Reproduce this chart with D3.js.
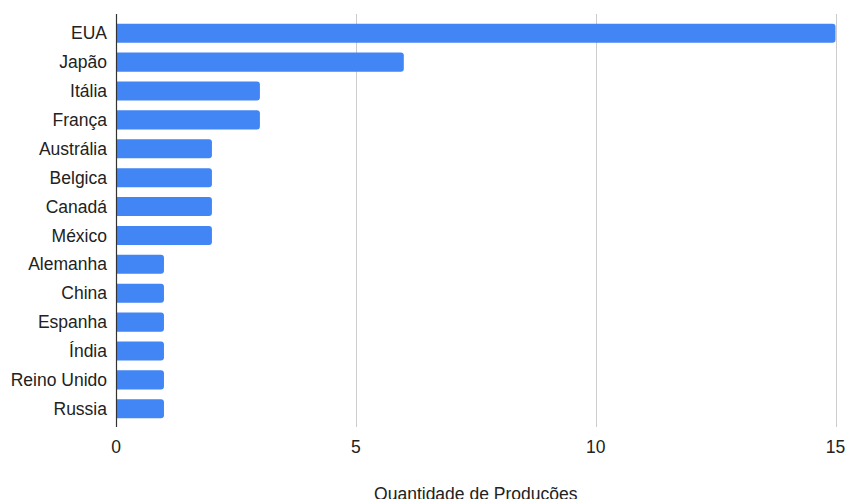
<!DOCTYPE html>
<html>
<head>
<meta charset="utf-8">
<script src="https://cdn.jsdelivr.net/npm/d3@7"></script>
<style>
  html, body { margin: 0; padding: 0; background: #fff; }
  text { font-family: "Liberation Sans", Arial, sans-serif; fill: #222; }
</style>
</head>
<body>
<svg id="chart" width="847" height="499"></svg>
<script>
const countries = ["EUA", "Japão", "Itália", "França", "Austrália", "Belgica", "Canadá", "México",
                   "Alemanha", "China", "Espanha", "Índia", "Reino Unido", "Russia"];
const productions = [15, 6, 3, 3, 2, 2, 2, 2, 1, 1, 1, 1, 1, 1];
const xTicks = [0, 5, 10, 15];
const xTitle = "Quantidade de Produções";

const svg = d3.select("#chart");
const plotLeft = 116, plotRight = 835.5, plotTop = 15, plotBottom = 427;
const fontSize = 17.5;

const x = d3.scaleLinear().domain([0, 15]).range([plotLeft, plotRight]);
const y = d3.scaleBand().domain(countries).range([plotTop, plotBottom]).paddingInner(0.34).paddingOuter(0.3);

// vertical gridlines
svg.append("g").selectAll("line")
  .data(xTicks.filter(d => d > 0))
  .join("line")
  .attr("x1", d => Math.round(x(d)) + 0.5).attr("x2", d => Math.round(x(d)) + 0.5)
  .attr("y1", plotTop - 1).attr("y2", plotBottom)
  .attr("stroke", "#cccccc").attr("stroke-width", 1);

// bars with rounded right ends
const r = 3;
svg.append("g").selectAll("path")
  .data(countries.map((c, i) => ({ c, v: productions[i] })))
  .join("path")
  .attr("fill", "#4285f4")
  .attr("d", d => {
    const x0 = x(0), x1 = x(d.v), y0 = y(d.c), h = y.bandwidth();
    return `M${x0},${y0}H${x1 - r}Q${x1},${y0} ${x1},${y0 + r}V${y0 + h - r}Q${x1},${y0 + h} ${x1 - r},${y0 + h}H${x0}Z`;
  });

// baseline axis
svg.append("line")
  .attr("x1", plotLeft + 0.5).attr("x2", plotLeft + 0.5)
  .attr("y1", plotTop - 1).attr("y2", plotBottom)
  .attr("stroke", "#333").attr("stroke-width", 1.2);

// category labels
svg.append("g").selectAll("text")
  .data(countries)
  .join("text")
  .attr("x", plotLeft - 9)
  .attr("y", d => y(d) + y.bandwidth() / 2)
  .attr("dy", "0.35em")
  .attr("text-anchor", "end")
  .attr("font-size", fontSize)
  .text(d => d);

// x tick labels
svg.append("g").selectAll("text")
  .data(xTicks)
  .join("text")
  .attr("x", d => x(d))
  .attr("y", 447)
  .attr("dy", "0.35em")
  .attr("text-anchor", "middle")
  .attr("font-size", fontSize)
  .text(d => d);

// axis title
svg.append("text")
  .attr("x", (plotLeft + plotRight) / 2)
  .attr("y", 499.5)
  .attr("text-anchor", "middle")
  .attr("font-size", fontSize)
  .text(xTitle);
</script>
</body>
</html>
